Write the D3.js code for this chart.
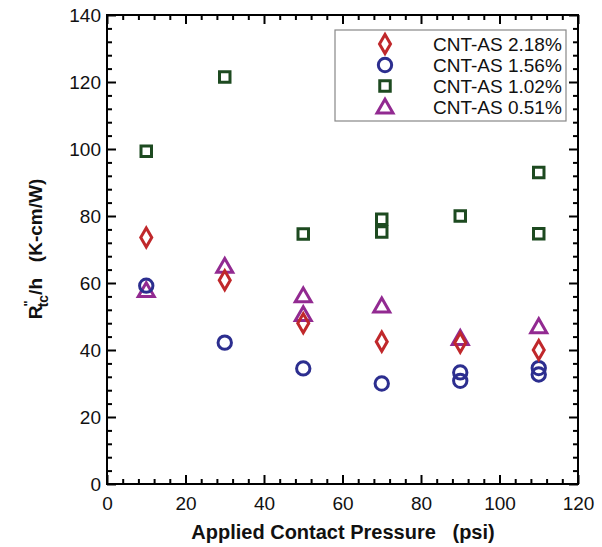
<!DOCTYPE html>
<html>
<head>
<meta charset="utf-8">
<script src="https://cdn.jsdelivr.net/npm/d3@7"></script>
<style>
  body { margin: 0; background: #fff; }
  text { font-family: Arial, "Liberation Sans", sans-serif; }
</style>
</head>
<body>
<div class="canvas"></div>
<script>
// data: [pressure psi, R/h K-cm/W]
const cnt218 = [[10, 73.6], [30, 60.8], [50, 48], [70, 42.5], [90, 42.2], [110, 40]];
const cnt156 = [[10, 59.2], [30, 42.2], [50, 34.5], [70, 30], [90, 33.3], [90, 30.8], [110, 34.6], [110, 32.7]];
const cnt102 = [[10, 99.3], [30, 121.5], [50, 74.6], [70, 79], [70, 75.2], [90, 80], [110, 93], [110, 74.7]];
const cnt051 = [[10, 57.8], [30, 65], [50, 56.2], [50, 50.6], [70, 53.2], [90, 43.5], [110, 47]];
const seriesNames = ['CNT-AS 2.18%', 'CNT-AS 1.56%', 'CNT-AS 1.02%', 'CNT-AS 0.51%'];
const xTicks = [0, 20, 40, 60, 80, 100, 120];
const yTicks = [0, 20, 40, 60, 80, 100, 120, 140];

const svg = d3.select('.canvas')
  .append('svg')
    .attr('width', 602)
    .attr('height', 547);

const margin = {top: 15, right: 24, bottom: 63, left: 107};
const graphWidth = 602 - margin.left - margin.right;
const graphHeight = 547 - margin.top - margin.bottom;

const graph = svg.append('g')
  .attr('transform', `translate(${margin.left}, ${margin.top})`);

const x = d3.scaleLinear().domain([0, 120]).range([0, graphWidth]);
const y = d3.scaleLinear().domain([0, 140]).range([graphHeight, 0]);

const minorX = d3.range(0, 121, 4).filter(d => d % 20 !== 0);
const minorY = d3.range(0, 141, 4).filter(d => d % 20 !== 0);

//frame ticks, all pointing inward
function ticks(axis, scale, vals, len, labels) {
  const a = axis(scale).tickValues(vals).tickSizeInner(-len).tickSizeOuter(0);
  if (!labels) a.tickFormat('');
  else a.tickPadding(len + 9);
  return a;
}
const bottomG = graph.append('g').attr('transform', `translate(0, ${graphHeight})`);
bottomG.call(ticks(d3.axisBottom, x, xTicks, 9, true));
bottomG.append('g').call(ticks(d3.axisBottom, x, minorX, 5, false));
const topG = graph.append('g');
topG.call(ticks(d3.axisTop, x, xTicks, 9, false));
topG.append('g').call(ticks(d3.axisTop, x, minorX, 5, false));
const leftG = graph.append('g');
leftG.call(ticks(d3.axisLeft, y, yTicks, 9, true));
leftG.append('g').call(ticks(d3.axisLeft, y, minorY, 5, false));
const rightG = graph.append('g').attr('transform', `translate(${graphWidth}, 0)`);
rightG.call(ticks(d3.axisRight, y, yTicks, 9, false));
rightG.append('g').call(ticks(d3.axisRight, y, minorY, 5, false));

graph.selectAll('.domain').remove();
graph.selectAll('.tick line').attr('stroke', '#000').attr('stroke-width', 2);
graph.selectAll('.tick text')
  .attr('font-size', 19)
  .attr('fill', '#111');
leftG.selectAll('.tick text').attr('dx', '12');
bottomG.selectAll('.tick text').attr('y', 13).attr('dy', '0.71em');

graph.append('rect')
  .attr('width', graphWidth)
  .attr('height', graphHeight)
  .attr('fill', 'none')
  .attr('stroke', '#000')
  .attr('stroke-width', 2);

//markers
const styles = [
  {data: cnt051, color: '#922a91', sym: d3.symbolTriangle, size: 110, dy: 1.5},
  {data: cnt102, color: '#1d4a20', sym: d3.symbolSquare, size: 110, dy: 0},
  {data: cnt156, color: '#2c2e8f', sym: d3.symbolCircle, size: 140, dy: 0},
  {data: cnt218, color: '#c0282b', sym: d3.symbolDiamond, size: 105, dy: 0}
];
styles.forEach(s => {
  graph.append('g').selectAll('path')
    .data(s.data)
    .enter()
    .append('path')
    .attr('d', d3.symbol().type(s.sym).size(s.size))
    .attr('transform', d => `translate(${x(d[0])}, ${y(d[1]) + s.dy})`)
    .attr('fill', 'none')
    .attr('stroke', s.color)
    .attr('stroke-width', 3);
});

//legend
const legend = graph.append('g').attr('transform', 'translate(228, 15)');
legend.append('rect')
  .attr('width', 231)
  .attr('height', 91)
  .attr('fill', '#fff')
  .attr('stroke', '#888')
  .attr('stroke-width', 1.2);
const legendStyles = [styles[3], styles[2], styles[1], styles[0]];
seriesNames.forEach((name, i) => {
  const s = legendStyles[i];
  const row = legend.append('g').attr('transform', `translate(0, ${14 + i * 21})`);
  row.append('path')
    .attr('d', d3.symbol().type(s.sym).size(s.size))
    .attr('transform', `translate(50, ${s.dy})`)
    .attr('fill', 'none')
    .attr('stroke', s.color)
    .attr('stroke-width', 3);
  row.append('text')
    .attr('x', 98)
    .attr('y', 0)
    .attr('dy', '0.36em')
    .attr('font-size', 19)
    .attr('fill', '#111')
    .text(name);
});

//axis titles
svg.append('text')
  .attr('x', 343)
  .attr('y', 539)
  .attr('text-anchor', 'middle')
  .attr('font-size', 20)
  .attr('font-weight', 'bold')
  .attr('fill', '#111')
  .attr('xml:space', 'preserve')
  .text('Applied Contact Pressure   (psi)');

const yTitle = svg.append('text')
  .attr('transform', 'translate(42, 249) rotate(-90)')
  .attr('text-anchor', 'middle')
  .attr('font-size', 19)
  .attr('font-weight', 'bold')
  .attr('fill', '#111')
  .attr('xml:space', 'preserve');
yTitle.append('tspan').text('R');
yTitle.append('tspan').attr('font-size', 13).attr('dx', '-1').attr('dy', '-9').text('"');
yTitle.append('tspan').attr('font-size', 14).attr('dx', '-7').attr('dy', '15').text('tc');
yTitle.append('tspan').attr('dy', '-6').text('/h   (K-cm/W)');
</script>
</body>
</html>
